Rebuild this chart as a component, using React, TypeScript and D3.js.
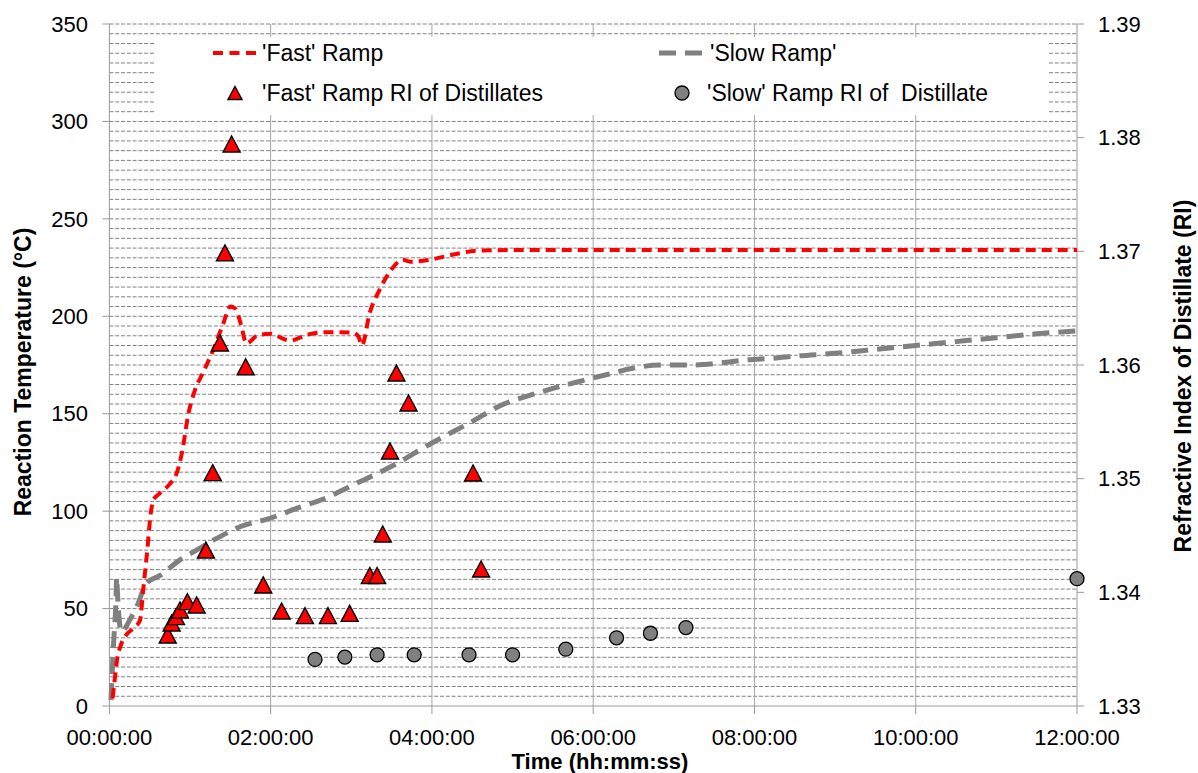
import React from 'react';
import * as d3 from 'd3';

// ---- data (time in hours) ----
const fastRampTime = [0.04, 0.07, 0.1, 0.14, 0.2, 0.3, 0.38, 0.42, 0.47, 0.51, 0.55, 0.62, 0.75, 0.83, 0.9, 0.98, 1.06, 1.16, 1.29, 1.41, 1.5, 1.56, 1.63, 1.7, 1.83, 1.99, 2.24, 2.45, 2.69, 3.02, 3.09, 3.13, 3.23, 3.35, 3.48, 3.64, 3.73, 3.97, 4.3, 4.55, 5.0, 12.0];
const fastRampTemp = [4, 15, 25, 31, 36, 40, 44, 60, 80, 98, 106, 109, 114, 119, 130, 150, 162, 171, 183, 196, 205, 204, 196, 186, 190, 191, 187.5, 190.5, 191.8, 191.6, 189.5, 185, 202, 213.5, 223, 229, 228, 229, 232, 233.6, 234, 234];

const slowRampTime = [0.02, 0.03, 0.04, 0.06, 0.08, 0.09, 0.1, 0.12, 0.15, 0.25, 0.34, 0.46, 0.63, 0.875, 1.08, 1.33, 1.62, 1.99, 2.32, 2.7, 3.0, 3.5, 4.0, 4.5, 4.84, 5.26, 5.59, 5.87, 6.16, 6.49, 6.83, 7.2, 7.57, 7.9, 8.23, 8.52, 9.0, 9.5, 10.0, 10.5, 11.0, 11.5, 12.0];
const slowRampTemp = [3, 12, 22, 38, 52, 66, 58, 45, 38, 44, 51, 63, 67, 75, 80, 86, 92, 96.3, 101.4, 107, 113, 123, 135, 146, 154, 160, 164, 167, 170, 173.3, 175, 175, 176, 177.6, 178.5, 179.6, 181, 183, 185, 187, 189, 191, 192.5];

const fastRITime = [0.723, 0.772, 0.826, 0.875, 0.966, 1.082, 1.197, 1.281, 1.371, 1.433, 1.516, 1.69, 1.908, 2.136, 2.425, 2.71, 2.98, 3.23, 3.32, 3.39, 3.48, 3.56, 3.71, 4.51, 4.61];
const fastRIValue = [1.33625, 1.3373, 1.33786, 1.33845, 1.33918, 1.33889, 1.34372, 1.35053, 1.36194, 1.36986, 1.37944, 1.35985, 1.34065, 1.33836, 1.33795, 1.33795, 1.33815, 1.34148, 1.34148, 1.34513, 1.35243, 1.3593, 1.35666, 1.3505, 1.34205];

const slowRITime = [2.55, 2.92, 3.32, 3.78, 4.46, 5.0, 5.66, 6.29, 6.71, 7.15, 12.0];
const slowRIValue = [1.3341, 1.3343, 1.3345, 1.3345, 1.3345, 1.3345, 1.335, 1.336, 1.3364, 1.3369, 1.3412];

const leftTicks = [0, 50, 100, 150, 200, 250, 300, 350];
const rightTicks = [1.33, 1.34, 1.35, 1.36, 1.37, 1.38, 1.39];
const timeTicks = [0, 2, 4, 6, 8, 10, 12];
const timeLabels = ['00:00:00', '02:00:00', '04:00:00', '06:00:00', '08:00:00', '10:00:00', '12:00:00'];
const minorGrid = d3.range(5, 351, 5);

const FONT = '"Liberation Sans", Arial, sans-serif';

export default function App() {
  const W = 1198, H = 773;
  const left = 109.4, right = 1077, top = 24, bottom = 706;
  const x = d3.scaleLinear().domain([0, 12]).range([left, right]);
  const yL = d3.scaleLinear().domain([0, 350]).range([bottom, top]);
  const yR = d3.scaleLinear().domain([1.33, 1.39]).range([bottom, top]);

  const fastPts = fastRampTime.map((t, i) => [t, fastRampTemp[i]] as [number, number]);
  const slowPts = slowRampTime.map((t, i) => [t, slowRampTemp[i]] as [number, number]);
  const line = d3.line<[number, number]>().x(d => x(d[0])).y(d => yL(d[1])).curve(d3.curveMonotoneX);

  const tri = 'M0,-8L8.5,8L-8.5,8Z';
  const triSmall = 'M0,-6.5L7,6.5L-7,6.5Z';

  const legendTop = 37, legendBottom = 115, legendLeft = 155, legendRight = 1049;

  return (
    <svg width={W} height={H} style={{ position: 'absolute', left: 0, top: 0, background: '#fff' }} fontFamily={FONT}>
      <rect x={0} y={0} width={W} height={H} fill="#fff" />
      {/* minor dashed grid */}
      {minorGrid.map(v => (
        <line key={'g' + v} x1={left} x2={right} y1={yL(v)} y2={yL(v)} stroke="#808080" strokeWidth={1} strokeDasharray="4,1.8" />
      ))}
      {/* vertical grid */}
      {timeTicks.slice(1, -1).map(t => (
        <line key={'v' + t} x1={x(t)} x2={x(t)} y1={top} y2={bottom} stroke="#a6a6a6" strokeWidth={1} />
      ))}
      {/* legend background */}
      <rect x={legendLeft} y={legendTop} width={legendRight - legendLeft} height={legendBottom - legendTop} fill="#fff" />

      {/* axes */}
      <line x1={left} x2={left} y1={top} y2={bottom} stroke="#999" strokeWidth={1} />
      <line x1={right} x2={right} y1={top} y2={bottom} stroke="#999" strokeWidth={1} />
      <line x1={left} x2={right} y1={bottom} y2={bottom} stroke="#999" strokeWidth={1} />
      {leftTicks.map(v => (
        <g key={'lt' + v}>
          <line x1={left - 7} x2={left} y1={yL(v)} y2={yL(v)} stroke="#999" />
          <text x={88} y={yL(v)} dy="0.35em" textAnchor="end" fontSize={22} fill="#000">{v}</text>
        </g>
      ))}
      {rightTicks.map(v => (
        <g key={'rt' + v}>
          <line x1={right} x2={right + 7} y1={yR(v)} y2={yR(v)} stroke="#999" />
          <text x={1098} y={yR(v)} dy="0.35em" textAnchor="start" fontSize={22} fill="#000">{v.toFixed(2)}</text>
        </g>
      ))}
      {timeTicks.map((t, i) => (
        <g key={'bt' + t}>
          <line x1={x(t)} x2={x(t)} y1={bottom} y2={bottom + 8} stroke="#999" />
          <text x={x(t)} y={745} textAnchor="middle" fontSize={22} fill="#000">{timeLabels[i]}</text>
        </g>
      ))}
      <text x={600} y={769} textAnchor="middle" fontSize={22} fontWeight="bold" fill="#000">Time (hh:mm:ss)</text>
      <text transform={`translate(23,372) rotate(-90)`} dy="0.35em" textAnchor="middle" fontSize={23} fontWeight="bold" fill="#000">Reaction Temperature (°C)</text>
      <text transform={`translate(1183,376) rotate(-90)`} dy="0.35em" textAnchor="middle" fontSize={23} fontWeight="bold" fill="#000">Refractive Index of Distillate (RI)</text>

      {/* series lines */}
      <path d={line(slowPts) || ''} fill="none" stroke="#808080" strokeWidth={5} strokeDasharray="17,9" />
      <path d={line(fastPts) || ''} fill="none" stroke="#ff0000" strokeWidth={4} strokeDasharray="10,6" />

      {/* markers */}
      {slowRITime.map((t, i) => (
        <circle key={'c' + i} cx={x(t)} cy={yR(slowRIValue[i])} r={7} fill="#808080" stroke="#000" strokeWidth={1.3} />
      ))}
      {fastRITime.map((t, i) => (
        <path key={'t' + i} d={tri} transform={`translate(${x(t)},${yR(fastRIValue[i])})`} fill="#ff0000" stroke="#000" strokeWidth={1.4} strokeLinejoin="miter" />
      ))}

      {/* legend */}
      <line x1={213} x2={256} y1={53} y2={53} stroke="#ff0000" strokeWidth={4} strokeDasharray="10,6.5" />
      <text x={262} y={53} dy="0.35em" fontSize={23} fill="#000">'Fast' Ramp</text>
      <line x1={659} x2={702} y1={53} y2={53} stroke="#808080" strokeWidth={5} strokeDasharray="17,9" />
      <text x={710} y={53} dy="0.35em" fontSize={23} fill="#000">'Slow Ramp'</text>
      <path d={triSmall} transform="translate(235,93)" fill="#ff0000" stroke="#000" strokeWidth={1.4} />
      <text x={262} y={93} dy="0.35em" fontSize={23} fill="#000">'Fast' Ramp RI of Distillates</text>
      <circle cx={682} cy={93} r={7} fill="#808080" stroke="#000" strokeWidth={1.3} />
      <text x={707} y={93} dy="0.35em" fontSize={23} fill="#000" style={{ whiteSpace: 'pre' }}>{"'Slow' Ramp RI of  Distillate"}</text>
    </svg>
  );
}
